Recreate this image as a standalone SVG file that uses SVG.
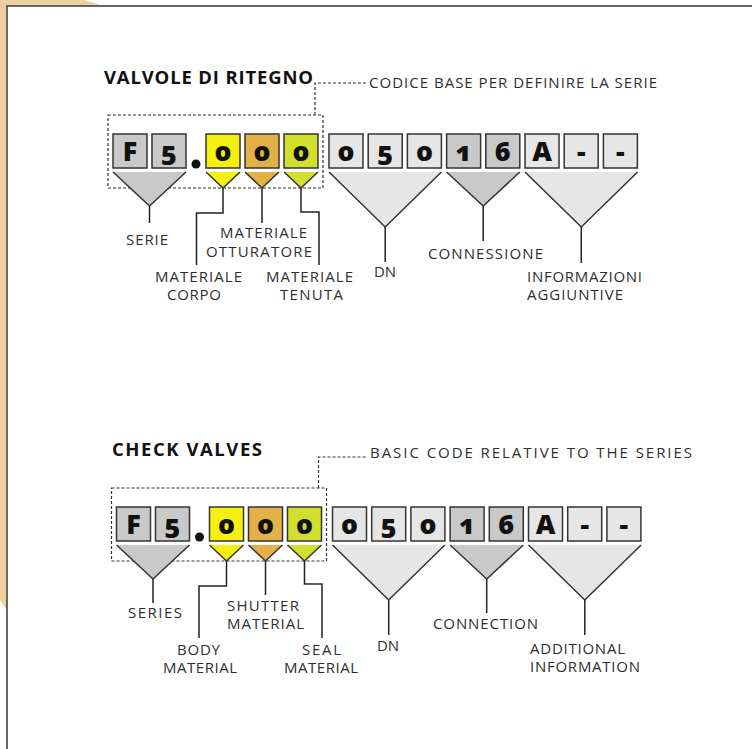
<svg xmlns="http://www.w3.org/2000/svg" width="752" height="749" viewBox="0 0 752 749">
<defs>
<style>
.frame{fill:#fff;stroke:#444;stroke-width:1.6}
.box{stroke:#333;stroke-width:1.5}
.g1{fill:#c9c9c9}.g2{fill:#e6e6e6}.yl{fill:#f6f010}.or{fill:#e3b146}.gr{fill:#d3df2e}
.tri{stroke:none}
.edge{fill:none;stroke:#333;stroke-width:1.5}
.dash{fill:none;stroke:#333;stroke-width:1.2;stroke-dasharray:3 2}
.ln{fill:none;stroke:#222;stroke-width:1.5}
.dig{font-family:"Open Sans","DejaVu Sans",sans-serif;font-weight:800;font-size:27px;fill:#111;text-anchor:middle;font-feature-settings:"onum" 1;font-variant-numeric:oldstyle-nums}
.ttl{font-family:"Open Sans","Liberation Sans",sans-serif;font-weight:700;font-size:18.5px;fill:#111}
.lbl{font-family:"Open Sans","Liberation Sans",sans-serif;font-size:15px;fill:#2e2e2e}
</style>
</defs>
<polygon points="0,0 84,0 110,8 8,8 8,612 0,600" fill="#ecd19e"/>
<rect class="frame" x="7" y="6" width="800" height="800"/>

<g id="section-it">
  <text id="title-it" class="ttl" x="104" y="84" textLength="209">VALVOLE DI RITEGNO</text>
  <g id="base-code-it">
    <rect class="dash" x="108" y="115" width="215" height="73"/>
    <text class="lbl" x="369" y="88" textLength="288">CODICE BASE PER DEFINIRE LA SERIE</text>
  </g>
  <g id="code-it">
    <g id="it-F"><rect class="box g1" x="113" y="134" width="34" height="34"/><text class="dig" x="130" y="161">F</text></g>
    <g id="it-5"><rect class="box g1" x="152" y="134" width="34" height="34"/><text class="dig" x="169" y="161">5</text></g>
    <circle cx="196" cy="164" r="4.5" fill="#111"/>
    <g id="it-0a"><rect class="box yl" x="206" y="134" width="34" height="34"/><text class="dig" x="223" y="161">0</text></g>
    <g id="it-0b"><rect class="box or" x="245" y="134" width="34" height="34"/><text class="dig" x="262" y="161">0</text></g>
    <g id="it-0c"><rect class="box gr" x="284" y="134" width="34" height="34"/><text class="dig" x="301" y="161">0</text></g>
    <g id="it-d1"><rect class="box g2" x="329" y="134" width="34" height="34"/><text class="dig" x="346" y="161">0</text></g>
    <g id="it-d2"><rect class="box g2" x="368.2" y="134" width="34" height="34"/><text class="dig" x="385.2" y="161">5</text></g>
    <g id="it-d3"><rect class="box g2" x="407.4" y="134" width="34" height="34"/><text class="dig" x="424.4" y="161">0</text></g>
    <g id="it-c1"><rect class="box g1" x="446.6" y="134" width="34" height="34"/><text class="dig" x="463.6" y="161">1</text></g>
    <g id="it-c2"><rect class="box g1" x="485.8" y="134" width="34" height="34"/><text class="dig" x="502.8" y="161">6</text></g>
    <g id="it-i1"><rect class="box g2" x="525" y="134" width="34" height="34"/><text class="dig" x="542" y="161">A</text></g>
    <g id="it-i2"><rect class="box g2" x="564.2" y="134" width="34" height="34"/><text class="dig" x="581.2" y="161">-</text></g>
    <g id="it-i3"><rect class="box g2" x="603.4" y="134" width="34" height="34"/><text class="dig" x="620.4" y="161">-</text></g>
  </g>
  <g id="it-triangles">
    <polygon class="tri g1" points="113,172 186,172 149.5,206"/><polyline class="edge" points="113,172 149.5,206 186,172"/>
    <polygon class="tri yl" points="206,172 240,172 223,188"/><polyline class="edge" points="206,172 223,188 240,172"/>
    <polygon class="tri or" points="245,172 279,172 262,188"/><polyline class="edge" points="245,172 262,188 279,172"/>
    <polygon class="tri gr" points="284,172 318,172 301,188"/><polyline class="edge" points="284,172 301,188 318,172"/>
    <polygon class="tri g2" points="329,172 441.4,172 385.2,227"/><polyline class="edge" points="329,172 385.2,227 441.4,172"/>
    <polygon class="tri g1" points="446.6,172 519.8,172 483.2,206"/><polyline class="edge" points="446.6,172 483.2,206 519.8,172"/>
    <polygon class="tri g2" points="525,172 637.6,172 581.3,227"/><polyline class="edge" points="525,172 581.3,227 637.6,172"/>
  </g>
  <g id="it-connectors">
    <polyline class="dash" points="315,115 315,83 366,83"/>
    <line class="ln" x1="149.5" y1="206" x2="149.5" y2="223"/>
    <polyline class="ln" points="223,188 223,213 196.5,213 196.5,265"/>
    <line class="ln" x1="262" y1="188" x2="262" y2="223"/>
    <polyline class="ln" points="301,188 301,212 319,212 319,265"/>
    <line class="ln" x1="385.2" y1="227" x2="385.2" y2="262"/>
    <line class="ln" x1="483.2" y1="206" x2="483.2" y2="241"/>
    <line class="ln" x1="581.3" y1="227" x2="581.3" y2="263"/>
  </g>
  <g id="it-labels">
    <text id="it-serie" class="lbl" x="126" y="245" textLength="42">SERIE</text>
    <g id="it-otturatore"><text class="lbl" x="220" y="238" textLength="87">MATERIALE</text><text class="lbl" x="206" y="256.5" textLength="106">OTTURATORE</text></g>
    <g id="it-corpo"><text class="lbl" x="155" y="281.5" textLength="87">MATERIALE</text><text class="lbl" x="167" y="300" textLength="54">CORPO</text></g>
    <g id="it-tenuta"><text class="lbl" x="266" y="281.5" textLength="87">MATERIALE</text><text class="lbl" x="280" y="300" textLength="63">TENUTA</text></g>
    <text id="it-dn" class="lbl" x="374" y="277" textLength="22">DN</text>
    <text id="it-conn" class="lbl" x="428" y="259" textLength="115">CONNESSIONE</text>
    <g id="it-info"><text class="lbl" x="527" y="281.5" textLength="115">INFORMAZIONI</text><text class="lbl" x="527" y="300" textLength="96">AGGIUNTIVE</text></g>
  </g>
</g>

<g id="section-en" transform="translate(3.5,373)">
  <text id="title-en" class="ttl" x="108.5" y="83" textLength="150">CHECK VALVES</text>
  <g id="base-code-en">
    <rect class="dash" x="108" y="115" width="215" height="73"/>
    <text class="lbl" x="366.5" y="85" textLength="322">BASIC CODE RELATIVE TO THE SERIES</text>
  </g>
  <g id="code-en">
    <g id="en-F"><rect class="box g1" x="113" y="134" width="34" height="34"/><text class="dig" x="130" y="161">F</text></g>
    <g id="en-5"><rect class="box g1" x="152" y="134" width="34" height="34"/><text class="dig" x="169" y="161">5</text></g>
    <circle cx="196" cy="164" r="4.5" fill="#111"/>
    <g id="en-0a"><rect class="box yl" x="206" y="134" width="34" height="34"/><text class="dig" x="223" y="161">0</text></g>
    <g id="en-0b"><rect class="box or" x="245" y="134" width="34" height="34"/><text class="dig" x="262" y="161">0</text></g>
    <g id="en-0c"><rect class="box gr" x="284" y="134" width="34" height="34"/><text class="dig" x="301" y="161">0</text></g>
    <g id="en-d1"><rect class="box g2" x="329" y="134" width="34" height="34"/><text class="dig" x="346" y="161">0</text></g>
    <g id="en-d2"><rect class="box g2" x="368.2" y="134" width="34" height="34"/><text class="dig" x="385.2" y="161">5</text></g>
    <g id="en-d3"><rect class="box g2" x="407.4" y="134" width="34" height="34"/><text class="dig" x="424.4" y="161">0</text></g>
    <g id="en-c1"><rect class="box g1" x="446.6" y="134" width="34" height="34"/><text class="dig" x="463.6" y="161">1</text></g>
    <g id="en-c2"><rect class="box g1" x="485.8" y="134" width="34" height="34"/><text class="dig" x="502.8" y="161">6</text></g>
    <g id="en-i1"><rect class="box g2" x="525" y="134" width="34" height="34"/><text class="dig" x="542" y="161">A</text></g>
    <g id="en-i2"><rect class="box g2" x="564.2" y="134" width="34" height="34"/><text class="dig" x="581.2" y="161">-</text></g>
    <g id="en-i3"><rect class="box g2" x="603.4" y="134" width="34" height="34"/><text class="dig" x="620.4" y="161">-</text></g>
  </g>
  <g id="en-triangles">
    <polygon class="tri g1" points="113,172 186,172 149.5,206"/><polyline class="edge" points="113,172 149.5,206 186,172"/>
    <polygon class="tri yl" points="206,172 240,172 223,188"/><polyline class="edge" points="206,172 223,188 240,172"/>
    <polygon class="tri or" points="245,172 279,172 262,188"/><polyline class="edge" points="245,172 262,188 279,172"/>
    <polygon class="tri gr" points="284,172 318,172 301,188"/><polyline class="edge" points="284,172 301,188 318,172"/>
    <polygon class="tri g2" points="329,172 441.4,172 385.2,227"/><polyline class="edge" points="329,172 385.2,227 441.4,172"/>
    <polygon class="tri g1" points="446.6,172 519.8,172 483.2,206"/><polyline class="edge" points="446.6,172 483.2,206 519.8,172"/>
    <polygon class="tri g2" points="525,172 637.6,172 581.3,227"/><polyline class="edge" points="525,172 581.3,227 637.6,172"/>
  </g>
  <g id="en-connectors">
    <polyline class="dash" points="315,115 315,84 363.5,84"/>
    <line class="ln" x1="149.5" y1="206" x2="149.5" y2="230"/>
    <polyline class="ln" points="223,188 223,213 195.5,213 195.5,265"/>
    <line class="ln" x1="262" y1="188" x2="262" y2="222"/>
    <polyline class="ln" points="301,188 301,211 318.5,211 318.5,265"/>
    <line class="ln" x1="385.2" y1="227" x2="385.2" y2="262"/>
    <line class="ln" x1="483.2" y1="206" x2="483.2" y2="240"/>
    <line class="ln" x1="581.3" y1="227" x2="581.3" y2="262"/>
  </g>
  <g id="en-labels">
    <text id="en-series" class="lbl" x="124.5" y="245" textLength="54">SERIES</text>
    <g id="en-shutter"><text class="lbl" x="223.5" y="237.5" textLength="72">SHUTTER</text><text class="lbl" x="223.5" y="256" textLength="77">MATERIAL</text></g>
    <g id="en-body"><text class="lbl" x="173.5" y="281.5" textLength="43">BODY</text><text class="lbl" x="159.5" y="300" textLength="74">MATERIAL</text></g>
    <g id="en-seal"><text class="lbl" x="298.5" y="281.5" textLength="39">SEAL</text><text class="lbl" x="280.5" y="300" textLength="74">MATERIAL</text></g>
    <text id="en-dn" class="lbl" x="373.5" y="278" textLength="22">DN</text>
    <text id="en-conn" class="lbl" x="429.5" y="256" textLength="105">CONNECTION</text>
    <g id="en-info"><text class="lbl" x="526.5" y="280.5" textLength="95">ADDITIONAL</text><text class="lbl" x="526.5" y="299" textLength="110">INFORMATION</text></g>
  </g>
</g>
</svg>
